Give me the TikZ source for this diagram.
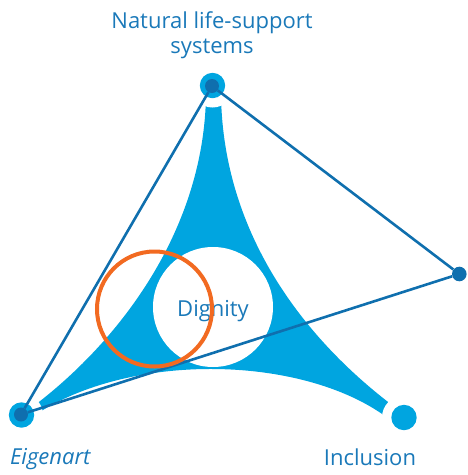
\documentclass[tikz,border=0pt]{standalone}
\usepackage{fontspec}
\setmainfont{Open Sans}
\definecolor{lightblue}{HTML}{00A5E0}
\definecolor{darkblue}{HTML}{0F6FAE}
\definecolor{textblue}{HTML}{1A79B9}
\definecolor{ringorange}{HTML}{F26A21}

\begin{document}
\begin{tikzpicture}[
        x=1pt, y=-1pt,
        bigdot/.style={circle, fill=lightblue, minimum size=25.4pt, inner sep=0pt},
        smalldot/.style={circle, fill=darkblue, minimum size=14pt, inner sep=0pt},
        line/.style={draw=darkblue, line width=2.6pt},
        term/.style={font=\fontsize{22}{25}\selectfont, text=textblue, align=center, inner sep=0pt}
    ]
    \useasboundingbox (0,0) rectangle (467,475);

    % Curved triangle
    \fill[lightblue] (206,95) .. controls (204,230) and (120,340) .. (35,405)
        -- (35,415) .. controls (130,352) and (300,355) .. (385,416)
        -- (392,405) .. controls (300,335) and (223,230) .. (221,95) -- cycle;

    % White gaps round the corners
    \fill[white] (212.5,85.5) circle (22pt);
    \fill[white] (21.5,415) circle (21.5pt);
    \fill[white] (404,417.5) circle (22pt);

    % Centre
    \fill[white] (213,307) circle (60pt);
    \node[term, anchor=base] (dignity) at (213,316) {Dignity};

    % Corners
    \node[bigdot] (natural_ring) at (212.5,85.5) {};
    \node[bigdot] (eigenart_ring) at (21.5,415) {};
    \node[bigdot] (inclusion) at (404,417.5) {};

    \node[smalldot] (natural) at (212,86) {};
    \node[smalldot] (eigenart) at (21,414.5) {};
    \node[smalldot, minimum size=14.6pt] (right) at (459.3,274) {};

    \draw[line] (natural) -- (eigenart);
    \draw[line] (natural) -- (right);
    \draw[line] (eigenart) -- (right);

    % Orange ring
    \draw[ringorange, line width=4pt] (154.5,309) circle (57.5pt);

    % Labels
    \node[term, anchor=base] (natural_label) at (212,53) {Natural life-support\\systems};
    \node[term, anchor=base, font=\fontsize{22}{25}\selectfont\itshape] (eigenart_label) at (50.3,464) {Eigenart};
    \node[term, anchor=base] (inclusion_label) at (370,465) {Inclusion};

\end{tikzpicture}
\end{document}
